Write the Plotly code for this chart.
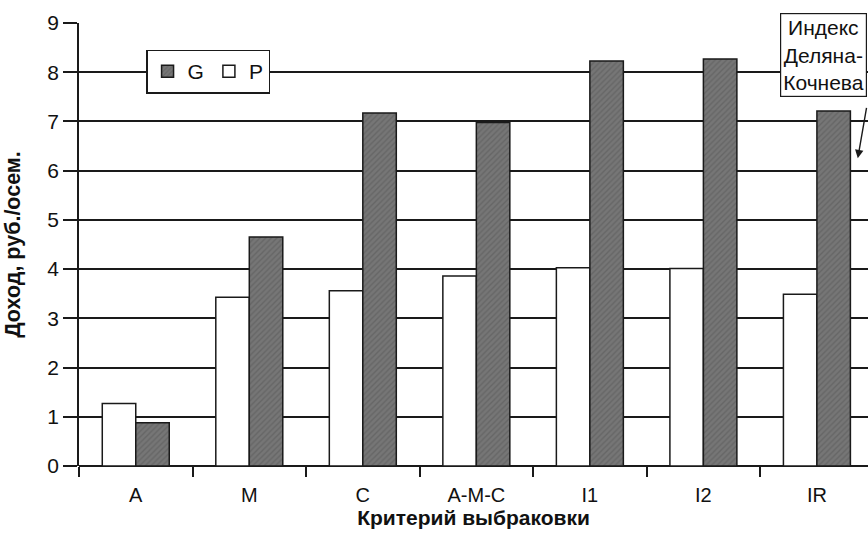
import plotly.graph_objects as go

categories = ["A", "M", "C", "A-M-C", "I1", "I2", "IR"]
p_values = [1.27, 3.43, 3.56, 3.86, 4.03, 4.01, 3.49]
g_values = [0.88, 4.65, 7.17, 6.98, 8.23, 8.27, 7.21]
y_ticks = [0, 1, 2, 3, 4, 5, 6, 7, 8, 9]

FONT = "Liberation Sans, Arial, sans-serif"
LINE = "#1a1a1a"

fig = go.Figure()
fig.add_trace(go.Bar(
    name="P", x=categories, y=p_values,
    marker=dict(color="white", line=dict(color=LINE, width=1.5)),
))
fig.add_trace(go.Bar(
    name="G", x=categories, y=g_values,
    marker=dict(color="#6e6e6e", line=dict(color=LINE, width=1.5),
                pattern=dict(shape="/", bgcolor="#767676", fgcolor="#555555",
                             size=4, solidity=0.35)),
))

fig.update_layout(
    width=868, height=533,
    margin=dict(l=79, r=0, t=23, b=67, autoexpand=False),
    paper_bgcolor="white", plot_bgcolor="white",
    barmode="group", bargap=0.41, bargroupgap=0,
    font=dict(family=FONT, color="#111", size=20),
    showlegend=True,
    legend=dict(
        orientation="h", traceorder="reversed",
        x=0.085, y=0.94, xanchor="left", yanchor="top",
        bgcolor="white", bordercolor=LINE, borderwidth=1.5,
        font=dict(size=21), itemwidth=30,
    ),
    xaxis=dict(
        range=[-0.5, 6.45], showgrid=False, showline=False, automargin=False,
        ticks="outside", tickson="boundaries", ticklen=10, tickwidth=1.5,
        tickcolor=LINE, tickfont=dict(size=20), ticklabelstandoff=15,
        title=dict(text="<b>Критерий выбраковки</b>", font=dict(size=21), standoff=0),
    ),
    yaxis=dict(
        range=[0, 9], tickvals=y_ticks, showgrid=True, gridcolor=LINE, gridwidth=1.5,
        showline=True, linecolor=LINE, linewidth=1.5, automargin=False,
        ticks="outside", ticklen=14, tickwidth=1.5, tickcolor=LINE,
        tickfont=dict(size=21), zeroline=True, zerolinecolor=LINE, zerolinewidth=1.5,
        title=dict(text="<b>Доход, руб./осем.</b>", font=dict(size=21.5), standoff=21),
    ),
    annotations=[
        dict(
            text="Индекс<br>Деляна-<br>Кочнева", xref="x", yref="y",
            x=6.06, y=8.36, showarrow=False, font=dict(size=21),
            bgcolor="white", bordercolor=LINE, borderwidth=1.2, borderpad=2,
            align="center",
        ),
        dict(
            text="", xref="x", yref="y", x=6.36, y=6.25,
            ax=9, ay=-52, showarrow=True, arrowhead=2, arrowsize=1.2,
            arrowwidth=1.4, arrowcolor=LINE,
        ),
    ],
)

fig.write_html(
    "out.html",
    config={"displayModeBar": False},
    post_script="document.body.style.margin='0';document.body.style.overflow='hidden';",
)
